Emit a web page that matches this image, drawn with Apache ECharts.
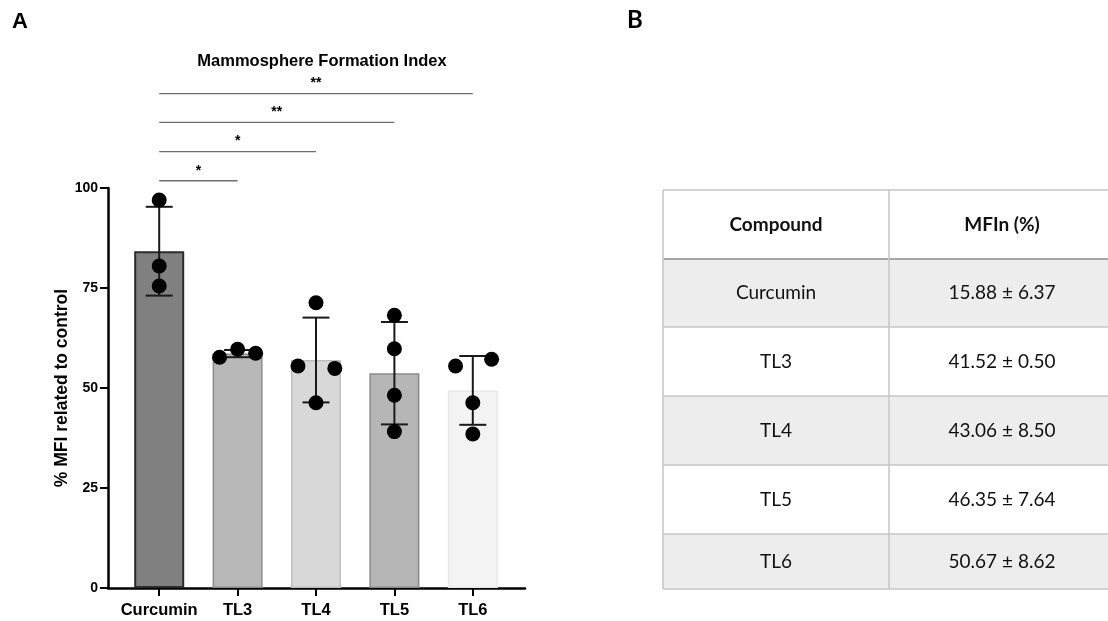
<!DOCTYPE html>
<html>
<head>
<meta charset="UTF-8">
<title>Mammosphere Formation Index</title>
<script src="https://cdn.jsdelivr.net/npm/echarts@6/dist/echarts.min.js"></script>
<style>
  html, body { margin: 0; padding: 0; background: #fff; }
  #main { width: 1108px; height: 621px; }
</style>
</head>
<body>
<div id="main"></div>
<script type="text/javascript">
// data
var categories = ['Curcumin', 'TL3', 'TL4', 'TL5', 'TL6'];
var means = [84.2, 58.6, 57.0, 53.7, 49.4];
var sds = [11.1, 0.9, 10.6, 12.8, 8.6];
var dotValues = [
  [97.0, 80.5, 75.5],
  [57.7, 59.7, 58.7],
  [71.3, 55.5, 54.9, 46.3],
  [68.2, 59.8, 48.2, 39.1],
  [55.5, 57.2, 46.3, 38.5]
];
var dotJitter = [
  [0, 0, 0],
  [-0.23, 0, 0.23],
  [0, -0.23, 0.24, 0],
  [0, 0, 0, 0],
  [-0.22, 0.24, 0, 0]
];
var sigFrom = [0, 0, 0, 0];
var sigTo = [1, 2, 3, 4];
var sigY = [101.8, 109.1, 116.4, 123.6];
var sigLabel = ['*', '*', '**', '**'];
var yTicks = [0, 25, 50, 75, 100];

// table (panel B)
var tableHeader = ['Compound', 'MFIn (%)'];
var tableCompound = ['Curcumin', 'TL3', 'TL4', 'TL5', 'TL6'];
var tableMfin = ['15.88 \u00b1 6.37', '41.52 \u00b1 0.50', '43.06 \u00b1 8.50', '46.35 \u00b1 7.64', '50.67 \u00b1 8.62'];

// styles
var barFill = ['#808080', '#b8b8b8', '#d8d8d8', '#b6b6b6', '#f3f3f3'];
var barBorder = ['#2b2b2b', '#8c8c8c', '#bdbdbd', '#8a8a8a', '#e9e9e9'];
var barBorderW = [2, 1.5, 1.5, 1.5, 1.5];
var armFont = 'Liberation Sans, Arial, sans-serif';
var tabFont = 'Lato, Noto Sans, sans-serif';

var myChart = echarts.init(document.getElementById('main'));

var barData = means.map(function (m, i) {
  return {
    value: m,
    itemStyle: { color: barFill[i], borderColor: barBorder[i], borderWidth: barBorderW[i] }
  };
});
var errData = means.map(function (m, i) { return [i, m - sds[i], m + sds[i]]; });
var dotData = [];
dotValues.forEach(function (vals, i) {
  vals.forEach(function (v, j) { dotData.push([i + dotJitter[i][j], v]); });
});
var sigData = sigFrom.map(function (f, i) { return [f, sigTo[i], sigY[i], sigLabel[i]]; });

// table graphics
var tLeft = 663, tDiv = 889, tRight = 1115;
var rowEdges = [190, 259, 327, 396, 465, 534, 589];
var tableEls = [];
for (var r = 0; r < rowEdges.length - 1; r++) {
  var y0 = rowEdges[r], y1 = rowEdges[r + 1];
  tableEls.push({
    type: 'rect', shape: { x: tLeft, y: y0, width: tRight - tLeft, height: y1 - y0 },
    style: { fill: (r % 2 === 1) ? '#ededed' : '#ffffff' }, silent: true
  });
  var isHead = r === 0;
  var c1 = isHead ? tableHeader[0] : tableCompound[r - 1];
  var c2 = isHead ? tableHeader[1] : tableMfin[r - 1];
  [[c1, (tLeft + tDiv) / 2], [c2, (tDiv + tRight) / 2]].forEach(function (t) {
    tableEls.push({
      type: 'text', x: t[1], y: (y0 + y1) / 2, silent: true,
      style: {
        text: t[0], align: 'center', verticalAlign: 'middle',
        font: (isHead ? 'bold ' : '') + '19px ' + tabFont, fill: '#111'
      }
    });
  });
}
rowEdges.forEach(function (y, k) {
  tableEls.push({
    type: 'line', shape: { x1: tLeft, y1: y, x2: tRight, y2: y }, silent: true,
    style: { stroke: k === 1 ? '#a6a6a6' : '#c6c6c6', lineWidth: k === 1 ? 2 : 1.5 }
  });
});
[tLeft, tDiv, tRight].forEach(function (x) {
  tableEls.push({
    type: 'line', shape: { x1: x, y1: rowEdges[0], x2: x, y2: rowEdges[rowEdges.length - 1] }, silent: true,
    style: { stroke: '#c6c6c6', lineWidth: 1.5 }
  });
});
tableEls.push({ type: 'text', x: 12, y: 11, silent: true, style: { text: 'A', font: 'bold 22px ' + armFont, fill: '#000' } });
tableEls.push({ type: 'text', x: 627, y: 8, silent: true, style: { text: 'B', font: 'bold 24px ' + tabFont, fill: '#000' } });

var option = {
  animation: false,
  backgroundColor: '#fff',
  title: {
    text: 'Mammosphere Formation Index',
    left: 317, top: 48, textAlign: 'center',
    textStyle: { fontFamily: armFont, fontSize: 16.5, fontWeight: 'bold', color: '#000' }
  },
  grid: [
    { left: 108, top: 188, width: 417, height: 400 },
    { left: 120, top: 60, width: 392, height: 528 }
  ],
  xAxis: [
    {
      gridIndex: 0, type: 'value', min: 0, max: 1,
      axisLine: { show: true, lineStyle: { color: '#000', width: 2.5 } },
      axisTick: { show: false }, axisLabel: { show: false }, splitLine: { show: false }
    },
    {
      gridIndex: 1, type: 'category', data: categories,
      axisLine: { show: false },
      axisTick: { show: true, alignWithLabel: true, length: 8, lineStyle: { color: '#000', width: 2 } },
      axisLabel: { interval: 0, margin: 14, fontFamily: armFont, fontSize: 16.5, fontWeight: 'bold', color: '#000' }
    },
    { gridIndex: 1, type: 'value', min: -0.5, max: 4.5, show: false }
  ],
  yAxis: [
    {
      gridIndex: 0, type: 'value', min: 0, max: 100, interval: 25,
      name: '% MFI related to control', nameLocation: 'middle', nameGap: 35,
      nameTextStyle: { fontFamily: armFont, fontSize: 17.5, fontWeight: 'bold', color: '#000' },
      axisLine: { show: true, lineStyle: { color: '#000', width: 2.5 } },
      axisTick: { show: true, length: 8, lineStyle: { color: '#000', width: 2 } },
      axisLabel: {
        margin: 10, fontFamily: armFont, fontSize: 14, fontWeight: 'bold', color: '#000',
        formatter: function (v) { return yTicks.indexOf(v) >= 0 ? String(v) : ''; }
      },
      splitLine: { show: false }
    },
    { gridIndex: 1, type: 'value', min: 0, max: 132, show: false }
  ],
  graphic: tableEls,
  series: [
    {
      type: 'bar', xAxisIndex: 1, yAxisIndex: 1, barWidth: 50, data: barData, z: 2
    },
    {
      type: 'custom', xAxisIndex: 1, yAxisIndex: 1, data: errData, z: 3,
      renderItem: function (params, api) {
        var x = api.value(0);
        var lo = api.coord([x, api.value(1)]);
        var hi = api.coord([x, api.value(2)]);
        var half = 13.5;
        var st = { stroke: '#1a1a1a', lineWidth: 2 };
        return {
          type: 'group', children: [
            { type: 'line', shape: { x1: lo[0], y1: lo[1], x2: hi[0], y2: hi[1] }, style: st },
            { type: 'line', shape: { x1: hi[0] - half, y1: hi[1], x2: hi[0] + half, y2: hi[1] }, style: st },
            { type: 'line', shape: { x1: lo[0] - half, y1: lo[1], x2: lo[0] + half, y2: lo[1] }, style: st }
          ]
        };
      }
    },
    {
      type: 'scatter', xAxisIndex: 2, yAxisIndex: 1, data: dotData, z: 4,
      symbol: 'circle', symbolSize: 15, itemStyle: { color: '#000', opacity: 1 }
    },
    {
      type: 'custom', xAxisIndex: 2, yAxisIndex: 1, data: sigData, z: 3,
      renderItem: function (params, api) {
        var a = api.coord([api.value(0), api.value(2)]);
        var b = api.coord([api.value(1), api.value(2)]);
        return {
          type: 'group', children: [
            { type: 'line', shape: { x1: a[0], y1: a[1], x2: b[0], y2: b[1] }, style: { stroke: '#6e6e6e', lineWidth: 1.4 } },
            {
              type: 'text', x: (a[0] + b[0]) / 2, y: a[1] - 3,
              style: { text: sigData[params.dataIndex][3], align: 'center', verticalAlign: 'bottom', font: 'bold 14px ' + armFont, fill: '#000' }
            }
          ]
        };
      }
    }
  ]
};

myChart.setOption(option);
</script>
</body>
</html>
